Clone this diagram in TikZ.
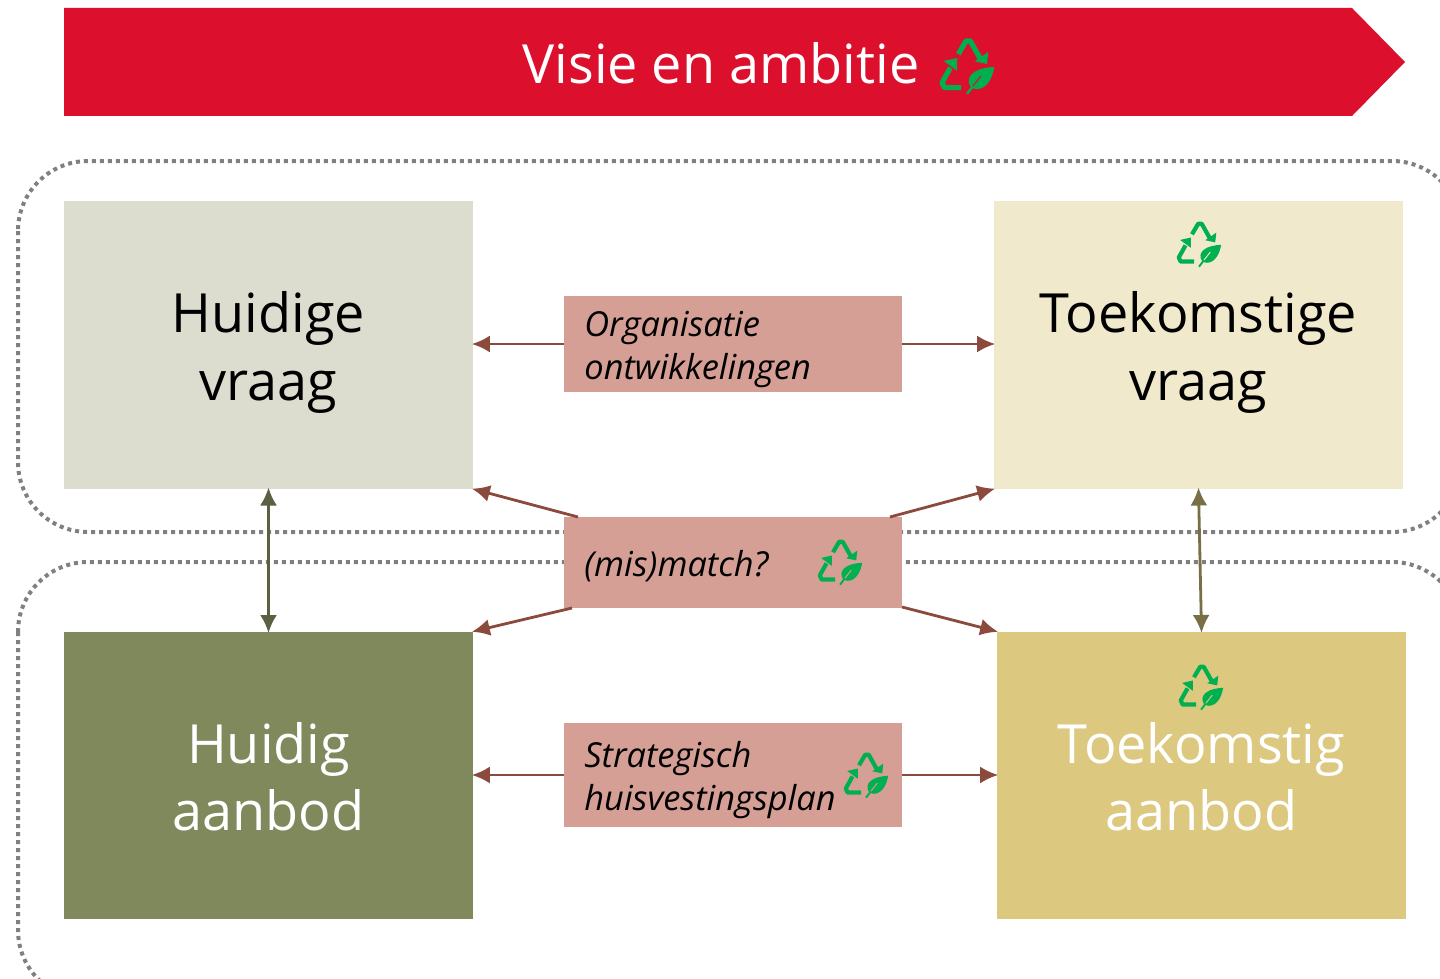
\documentclass[tikz,border=0pt]{standalone}
\usepackage{fontspec}
\setmainfont{Open Sans}
\usetikzlibrary{arrows.meta}
\definecolor{banner}{HTML}{DC0F2D}
\definecolor{hvraagfill}{HTML}{DCDDCF}
\definecolor{tvraagfill}{HTML}{F0E9CB}
\definecolor{haanbodfill}{HTML}{80895C}
\definecolor{taanbodfill}{HTML}{DCC97F}
\definecolor{midfill}{HTML}{D59F96}
\definecolor{midline}{HTML}{8B4A3C}
\definecolor{iconfill}{HTML}{00B050}
\tikzset{
  bigbox/.style={minimum width=204.5pt, minimum height=143.7pt, inner sep=0pt},
  bigtext/.style={inner sep=0pt, align=center, font=\fontsize{27}{33.7}\selectfont},
  midbox/.style={fill=midfill, minimum width=169pt, inner sep=0pt},
  midtext/.style={anchor=west, inner sep=0pt, align=left, font=\fontsize{17.2}{21.5}\selectfont\itshape},
  dotline/.style={draw=black!50, line width=2pt, dash pattern=on 2pt off 2pt, rounded corners=35pt},
  midarrow/.style={draw=midline, line width=1.4pt, shorten >=-0.8pt, -{Latex[length=9pt,width=8.5pt]}},
  pics/recycle/.style 2 args={code={
    \begin{scope}[shift={(-140,-140)}]
      \draw[iconfill, line width=#2pt, line join=round] (114,104) -- (137,65) -- (150,65) -- (182,122);
      \fill[iconfill] (204,98) -- (200,134) -- (163,126) -- cycle;
      \draw[iconfill, line width=#2pt, line join=round] (122,205) -- (72,205) -- (65,190) -- (90,145);
      \fill[iconfill] (70,125) -- (110,116) -- (110,154) -- cycle;
      \fill[iconfill] (222,143) .. controls (170,145) and (140,165) .. (146,192) .. controls (150,218) and (208,225) .. (222,143) -- cycle;
      \draw[iconfill, line width=#2pt*0.45] (140,224) -- (160,198);
      \draw[#1, line width=#2pt*0.22] (158,200) -- (182,170);
    \end{scope}
  }}
}
\begin{document}
\begin{tikzpicture}[x=0.5pt, y=-0.5pt]
  \clip (0,0) rectangle (1440,979);
  \fill[white] (0,0) rectangle (1440,979);

  % Dotted groups
  \draw[dotline] (18,161) rectangle (1462,532);
  \draw[dotline] (18,562) rectangle (1462,1000);

  % Banner
  \fill[banner] (64,8) -- (1352,8) -- (1405,62) -- (1352,116) -- (64,116) -- cycle;
  \node[text=white, font=\fontsize{27}{32}\selectfont] (title) at (721,63) {Visie en ambitie};
  \pic[scale=0.333] at (967,66) {recycle={banner}{2.6}};

  % Corners
  \node[bigbox, fill=hvraagfill] (hvraag) at (268.5,345) {};
  \node[bigbox, fill=tvraagfill] (tvraag) at (1198.5,345) {};
  \node[bigbox, fill=haanbodfill] (haanbod) at (268.5,775.5) {};
  \node[bigbox, fill=taanbodfill] (taanbod) at (1201.5,775.5) {};
  \node[bigtext] (hvraagtext) at (268.5,352.5) {Huidige\\vraag};
  \node[bigtext] (tvraagtext) at (1198.5,352.5) {Toekomstige\\vraag};
  \node[bigtext, text=white] (haanbodtext) at (268.5,777) {Huidig\\aanbod};
  \node[bigtext, text=white] (taanbodtext) at (1201.5,777) {Toekomstig\\aanbod};

  % Middle
  \node[midbox, minimum height=48pt] (org) at (733,344) {};
  \node[midbox, minimum height=45.5pt] (match) at (733,562.5) {};
  \node[midbox, minimum height=52pt] (plan) at (733,775) {};
  \node[midtext] (orgtext) at (584,349) {Organisatie\\ontwikkelingen};
  \node[midtext] (matchtext) at (584,566) {(mis)match?};
  \node[midtext] (plantext) at (584,780) {Strategisch\\huisvestingsplan};

  % Icons
  \pic[scale=0.27] at (1199,244) {recycle={tvraagfill}{2.1}};
  \pic[scale=0.27] at (1201,687) {recycle={taanbodfill}{2.1}};
  \pic[scale=0.27] at (840,562) {recycle={midfill}{2.1}};
  \pic[scale=0.27] at (866,775) {recycle={midfill}{2.1}};

  % Straight
  \draw[midarrow] (org.west) -- (org.west -| hvraag.east);
  \draw[midarrow] (org.east) -- (org.east -| tvraag.west);
  \draw[midarrow] (plan.west) -- (plan.west -| haanbod.east);
  \draw[midarrow] (plan.east) -- (plan.east -| taanbod.west);

  % Crossing
  \coordinate (mnw) at (578,517);
  \coordinate (mne) at (890,517);
  \coordinate (msw) at (572,608);
  \coordinate (mse) at (902,607);
  \draw[midarrow] (mnw) -- (hvraag.south east);
  \draw[midarrow] (mne) -- (tvraag.south west);
  \draw[midarrow] (msw) -- (haanbod.north east);
  \draw[midarrow] (mse) -- (taanbod.north west);

  % Vertical
  \draw[line width=1.4pt, draw=haanbodfill!70!black, shorten <=-0.8pt, shorten >=-0.8pt, {Latex[length=9pt,width=8.5pt]}-{Latex[length=9pt,width=8.5pt]}] (hvraag.south) -- (haanbod.north);
  \draw[line width=1.4pt, draw=taanbodfill!55!black, shorten <=-0.8pt, shorten >=-0.8pt, {Latex[length=9pt,width=8.5pt]}-{Latex[length=9pt,width=8.5pt]}] (tvraag.south) -- (taanbod.north);
\end{tikzpicture}
\end{document}
